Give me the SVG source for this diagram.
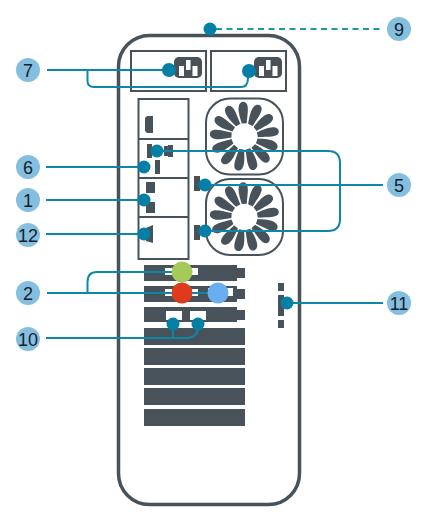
<svg xmlns="http://www.w3.org/2000/svg" width="426" height="515" viewBox="0 0 426 515">
<style>
.d{fill:#47525a}
.o{fill:none;stroke:#47525a;stroke-width:2}
.w{fill:#fff}
.c{fill:none;stroke:#0d87a6;stroke-width:2}
.dot{fill:#0480a6}
.lb{fill:#85bfe0}
.t{font-family:"Liberation Sans",Arial,sans-serif;font-size:18px;fill:#14212c;text-anchor:middle}
</style>
<defs>
<path id="b" class="d" d="M-2-13C-3.500-19-5.500-26-4-31C-2.500-36 3.500-36 4.500-31C5.500-26 3.500-19 3-13Z"/>
<g id="fan">
<rect x="-38.500" y="-38" width="77" height="76" rx="24" class="o"/>
<use href="#b" transform="rotate(-3)"/><use href="#b" transform="rotate(24.700)"/><use href="#b" transform="rotate(52.400)"/><use href="#b" transform="rotate(80.100)"/><use href="#b" transform="rotate(107.800)"/><use href="#b" transform="rotate(135.500)"/><use href="#b" transform="rotate(163.200)"/><use href="#b" transform="rotate(190.800)"/><use href="#b" transform="rotate(218.500)"/><use href="#b" transform="rotate(246.200)"/><use href="#b" transform="rotate(273.900)"/><use href="#b" transform="rotate(301.600)"/><use href="#b" transform="rotate(329.300)"/>
</g>
<g id="plug">
<rect width="28" height="21" rx="5" class="d"/>
<rect x="5" y="9" width="5" height="10" class="w"/><rect x="12" y="3" width="4.500" height="10" class="w"/><rect x="18.500" y="9" width="5" height="10" class="w"/>
</g>
</defs>
<g id="case">
<rect x="118.500" y="35.500" width="181" height="469" rx="31" fill="#fff" stroke="#47525a" stroke-width="3.500"/>
</g>
<g id="power">
<rect x="131" y="51" width="75" height="40" class="o"/>
<rect x="211" y="51" width="75" height="40" class="o"/>
<use href="#plug" x="174" y="57"/>
<use href="#plug" x="254" y="57"/>
</g>
<g id="ports">
<rect x="138.500" y="99" width="50" height="160" class="o"/>
<path d="M138 139H188M138 178H188M138 217H188" class="o"/>
<path class="d" d="M147 116H153V133H147L145 131V118Z"/>
<rect x="147" y="144" width="5" height="14" class="d"/>
<path class="d" d="M164 146H168V145H173V157H168V156H164Z"/>
<rect x="155" y="160" width="5" height="14" class="d"/>
<rect x="146" y="182" width="9" height="11" class="d"/>
<rect x="146" y="202" width="9" height="11" class="d"/>
<path class="d" d="M146 228L153 225V243L146 241Z"/>
</g>
<g id="fans">
<use href="#fan" x="244.500" y="136.500"/>
<use href="#fan" x="244.500" y="217"/>
<rect x="194" y="176" width="6" height="15" class="d"/>
<rect x="194" y="225" width="6" height="15" class="d"/>
</g>
<g id="slots">
<rect x="144" y="265" width="93" height="16" class="d"/><rect x="237" y="268" width="8" height="10" class="d"/>
<rect x="165" y="268" width="33" height="7" class="w"/>
<rect x="144" y="286" width="93" height="16" class="d"/><rect x="237" y="289" width="8" height="10" class="d"/>
<rect x="165" y="289" width="33" height="7" class="w"/><rect x="208" y="288" width="25" height="8" class="w"/>
<rect x="144" y="307" width="93" height="15" class="d"/><rect x="237" y="310" width="8" height="10" class="d"/>
<rect x="166" y="311" width="16" height="9" class="w"/><rect x="190" y="311" width="16" height="9" class="w"/>
<rect x="144" y="328" width="101" height="17" class="d"/>
<rect x="144" y="348" width="101" height="17" class="d"/>
<rect x="144" y="368" width="101" height="17" class="d"/>
<rect x="144" y="388" width="101" height="17" class="d"/>
<rect x="144" y="409" width="101" height="17" class="d"/>
<rect x="278" y="283" width="6" height="8" class="d"/>
<rect x="278" y="295" width="6" height="21" class="d"/>
<rect x="278" y="320" width="6" height="8" class="d"/>
</g>
<g id="connectors">
<path class="c" d="M47 70H169M87.500 70V81Q87.500 87 94 87H241Q248 87 248 78V71"/>
<path class="c" stroke-dasharray="6 4.500" style="stroke:#1d9a9c" d="M216 29H383"/>
<path class="c" d="M46 167H144"/>
<path class="c" d="M46 200H144"/>
<path class="c" d="M46 234H144"/>
<path class="c" d="M157 151H328Q340 151 340 163V219Q340 231 328 231H205"/>
<path class="c" d="M205 185H383"/>
<path class="c" d="M47 293H218M87.500 293V282Q87.500 272 97 272H182"/>
<path class="c" d="M46 338H186Q198 338 198 326M173 338V324"/>
<path class="c" d="M287 303H383"/>
</g>
<g id="dots">
<circle cx="169" cy="70" r="7" class="dot"/>
<circle cx="249" cy="71" r="7" class="dot"/>
<circle cx="210" cy="29" r="6.500" class="dot"/>
<circle cx="157" cy="151" r="6.500" class="dot"/>
<circle cx="144" cy="167" r="6.500" class="dot"/>
<circle cx="144" cy="200" r="6.500" class="dot"/>
<circle cx="144" cy="234" r="6.500" class="dot"/>
<circle cx="205" cy="185" r="6.500" class="dot"/>
<circle cx="205" cy="231" r="6.500" class="dot"/>
<circle cx="173" cy="324" r="6.500" class="dot"/>
<circle cx="198" cy="324" r="6.500" class="dot"/>
<circle cx="287" cy="303" r="6.500" class="dot"/>
<circle cx="182" cy="272" r="10.500" fill="#a5c95b"/>
<circle cx="182" cy="293" r="10.500" fill="#e03a1c"/>
<circle cx="218" cy="293" r="10.500" fill="#69aef0"/>
</g>
<g id="n7"><circle cx="28" cy="70" r="12" class="lb"/><text x="28" y="76.500" class="t">7</text></g>
<g id="n9"><circle cx="399" cy="29" r="12" class="lb"/><text x="399" y="35.500" class="t">9</text></g>
<g id="n6"><circle cx="28" cy="167" r="12" class="lb"/><text x="28" y="173.500" class="t">6</text></g>
<g id="n1"><circle cx="28" cy="200" r="12" class="lb"/><text x="28" y="206.500" class="t">1</text></g>
<g id="n12"><circle cx="28" cy="235" r="12" class="lb"/><text x="28" y="241.500" class="t">12</text></g>
<g id="n5"><circle cx="399" cy="185" r="12" class="lb"/><text x="399" y="191.500" class="t">5</text></g>
<g id="n2"><circle cx="28" cy="293" r="12" class="lb"/><text x="28" y="299.500" class="t">2</text></g>
<g id="n11"><circle cx="399" cy="303" r="12" class="lb"/><text x="399" y="309.500" class="t">11</text></g>
<g id="n10"><circle cx="28" cy="339" r="12" class="lb"/><text x="28" y="345.500" class="t">10</text></g>
</svg>
